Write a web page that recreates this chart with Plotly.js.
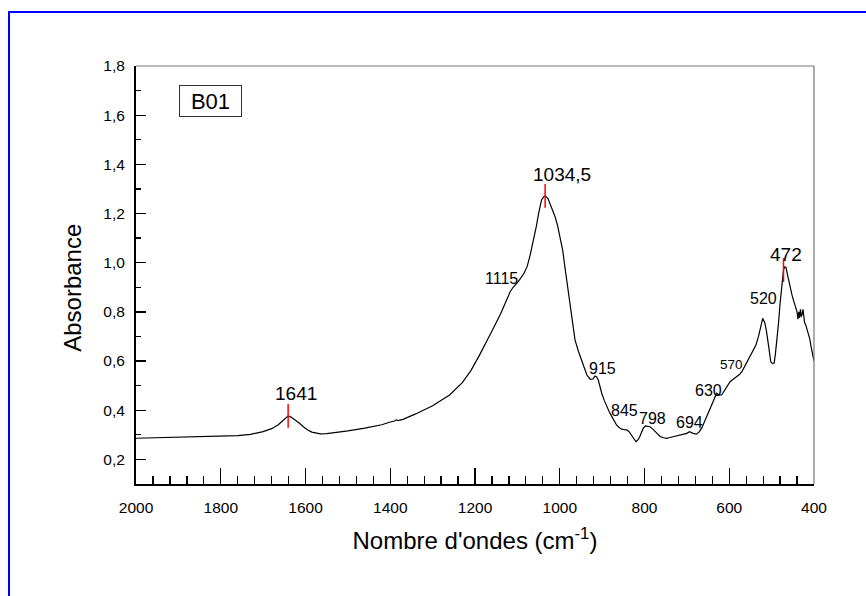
<!DOCTYPE html>
<html>
<head>
<meta charset="utf-8">
<script src="https://cdn.plot.ly/plotly-3.0.1.min.js"></script>
<style>
  html, body { margin: 0; padding: 0; background: #fff; overflow: hidden; }
  #wrap { position: relative; width: 866px; height: 596px; }
  #chart { position: absolute; left: 0; top: 0; width: 866px; height: 596px; }
  #frame { position: absolute; left: 8px; top: 11px; width: 1000px; height: 700px;
           border-left: 2px solid #0000ff; border-top: 2px solid #0000ff; pointer-events: none; }
</style>
</head>
<body>
<div id="wrap">
  <div id="chart"></div>
  <div id="frame"></div>
</div>
<script>
// FTIR spectrum of sample B01: wavenumber (cm-1) and absorbance
const wavenumber = [
  2000, 1950, 1900, 1850, 1800, 1760, 1730, 1700, 1680, 1665, 1655, 1648, 1641, 1634, 1625,
  1615, 1605, 1595, 1585, 1575, 1565, 1550, 1520, 1500, 1460, 1420, 1400, 1390, 1386, 1382,
  1370, 1340, 1300, 1260, 1230, 1210, 1190, 1175, 1160, 1140, 1125, 1117, 1110, 1098, 1085,
  1077, 1070, 1062, 1055, 1050, 1043, 1038, 1034.5, 1028, 1023, 1017, 1011, 1005, 999, 993,
  988, 982, 976, 972, 968, 964, 956, 948, 942, 936, 928, 922, 917, 913, 909,
  905, 901, 895, 889, 883, 877, 871, 866, 860, 854, 848, 842, 836, 830, 825,
  820, 815, 811, 807, 803, 798, 793, 787, 781, 775, 769, 763, 755, 748, 740,
  732, 720, 708, 700, 694, 689, 685, 677, 671, 665, 659, 653, 645, 638, 634,
  630, 624, 618, 610, 604, 598, 590, 582, 576, 570, 565, 559, 551, 543, 537,
  531, 526, 521, 516, 512, 507, 502, 498, 494, 491, 488, 484, 480, 476, 472,
  469, 466, 463, 460, 456, 452, 448, 445, 442, 440, 438, 436, 434, 432, 430,
  428, 426, 424, 422, 420, 417, 413, 410, 407, 405, 402, 400
];
const absorbance = [
  0.286, 0.288, 0.290, 0.292, 0.295, 0.297, 0.302, 0.313, 0.325, 0.340, 0.355, 0.368, 0.377, 0.372, 0.362,
  0.348, 0.333, 0.320, 0.311, 0.306, 0.304, 0.305, 0.311, 0.316, 0.327, 0.341, 0.352, 0.356, 0.361, 0.358,
  0.363, 0.385, 0.418, 0.462, 0.512, 0.560, 0.622, 0.675, 0.722, 0.790, 0.850, 0.882, 0.900, 0.923, 0.955,
  0.984, 1.030, 1.092, 1.150, 1.200, 1.255, 1.268, 1.272, 1.262, 1.242, 1.218, 1.187, 1.150, 1.106, 1.050,
  0.984, 0.910, 0.835, 0.780, 0.726, 0.686, 0.640, 0.604, 0.570, 0.543, 0.526, 0.527, 0.539, 0.535, 0.523,
  0.495, 0.469, 0.440, 0.414, 0.393, 0.374, 0.356, 0.340, 0.330, 0.323, 0.321, 0.320, 0.312, 0.299, 0.284,
  0.272, 0.280, 0.293, 0.310, 0.327, 0.336, 0.335, 0.333, 0.324, 0.313, 0.302, 0.293, 0.288, 0.286, 0.289,
  0.293, 0.297, 0.302, 0.306, 0.313, 0.309, 0.306, 0.303, 0.312, 0.327, 0.350, 0.374, 0.405, 0.435, 0.452,
  0.469, 0.462, 0.462, 0.482, 0.500, 0.516, 0.527, 0.536, 0.545, 0.557, 0.573, 0.591, 0.617, 0.645, 0.665,
  0.700, 0.745, 0.774, 0.755, 0.720, 0.660, 0.597, 0.590, 0.592, 0.630, 0.672, 0.750, 0.835, 0.910, 0.970,
  0.983, 0.981, 0.955, 0.930, 0.895, 0.869, 0.845, 0.828, 0.810, 0.800, 0.770, 0.800, 0.775, 0.810, 0.780,
  0.790, 0.810, 0.770, 0.755, 0.750, 0.730, 0.713, 0.690, 0.660, 0.645, 0.625, 0.600
];

// Main bands, marked with a red tick at the maximum
const mainBands = [1641, 1034.5, 472];
const mainBandLabels = ['1641', '1034,5', '472'];
// Secondary bands and shoulders
const minorBands = [1115, 915, 845, 798, 694, 630, 570, 520];
const minorBandLabels = ['1115', '915', '845', '798', '694', '630', '570', '520'];

const sampleName = 'B01';
const xTitle = "Nombre d'ondes (cm<sup>-1</sup>)";
const yTitle = 'Absorbance';
const xTickValues = [2000, 1800, 1600, 1400, 1200, 1000, 800, 600, 400];
const yTickValues = [0.2, 0.4, 0.6, 0.8, 1.0, 1.2, 1.4, 1.6, 1.8];

// absorbance at an arbitrary wavenumber (linear between samples)
function absorbanceAt(wn) {
  for (let i = 0; i < wavenumber.length - 1; i++) {
    const a = wavenumber[i], b = wavenumber[i + 1];
    if (wn <= a && wn >= b) {
      const t = (a - wn) / (a - b);
      return absorbance[i] + t * (absorbance[i + 1] - absorbance[i]);
    }
  }
  return absorbance[absorbance.length - 1];
}

const FONT = 'Liberation Sans, Arial, sans-serif';

// label offsets (px) from the band position on the curve
const mainOffsets = [[8, 22], [17, 21], [3, 16]];
const minorOffsets = [[-10, 12], [7, 8], [-1, 19], [7, 7], [0, 9], [-8, 3], [-10, 7], [0, 21]];
const minorSizes = [16, 16, 16, 16, 16, 16, 13.5, 16];

const annotations = [];
mainBands.forEach((wn, i) => {
  annotations.push({
    x: wn, y: absorbanceAt(wn), xref: 'x', yref: 'y', text: mainBandLabels[i],
    showarrow: false, xshift: mainOffsets[i][0], yshift: mainOffsets[i][1],
    xanchor: 'center', yanchor: 'middle',
    font: { family: FONT, size: 19, color: '#000' }
  });
});
minorBands.forEach((wn, i) => {
  annotations.push({
    x: wn, y: absorbanceAt(wn), xref: 'x', yref: 'y', text: minorBandLabels[i],
    showarrow: false, xshift: minorOffsets[i][0], yshift: minorOffsets[i][1],
    xanchor: 'center', yanchor: 'middle',
    font: { family: FONT, size: minorSizes[i], color: '#000' }
  });
});
// sample name in a box
annotations.push({
  x: 0.1099, y: 0.916, xref: 'paper', yref: 'paper', text: sampleName,
  showarrow: false, xanchor: 'center', yanchor: 'middle',
  width: 61, height: 30, borderpad: 0, borderwidth: 1, bordercolor: '#333',
  font: { family: FONT, size: 22, color: '#000' }
});
// vertical axis title, placed beside the tick labels
annotations.push({
  x: -0.094, y: 0.47, xref: 'paper', yref: 'paper', text: yTitle,
  showarrow: false, textangle: -90, xanchor: 'center', yanchor: 'middle',
  font: { family: FONT, size: 24, color: '#000' }
});

const traces = [
  {
    x: wavenumber, y: absorbance, type: 'scatter', mode: 'lines',
    line: { color: '#000', width: 1.2 }, hoverinfo: 'skip'
  },
  {
    x: mainBands, y: mainBands.map(absorbanceAt), type: 'scatter', mode: 'markers',
    marker: { symbol: 'line-ns-open', size: 17, color: '#ff0000', line: { color: '#ff0000', width: 1.5 } },
    hoverinfo: 'skip'
  }
];

const layout = {
  width: 866, height: 596,
  margin: { l: 136, r: 52, t: 66, b: 112 },
  paper_bgcolor: '#fff', plot_bgcolor: '#fff',
  showlegend: false,
  separators: ', ',
  font: { family: FONT, color: '#000' },
  xaxis: {
    range: [2000, 400], autorange: false,
    tickvals: xTickValues, tickformat: 'd',
    ticks: 'inside', ticklen: 16, tickwidth: 1.3, tickcolor: '#000',
    minor: { dtick: 40, tick0: 0, ticks: 'inside', ticklen: 8, tickwidth: 1.3, tickcolor: '#000' },
    showline: true, linecolor: '#000', linewidth: 2, mirror: false,
    showgrid: false, zeroline: false,
    tickfont: { family: FONT, size: 15.5, color: '#000' },
    ticklabelstandoff: 8,
    title: { text: xTitle, font: { family: FONT, size: 24, color: '#000' }, standoff: 18 }
  },
  yaxis: {
    range: [0.1, 1.8], autorange: false,
    tickvals: yTickValues, tickformat: '.1f',
    ticks: 'inside', ticklen: 10, tickwidth: 1.3, tickcolor: '#000',
    minor: { dtick: 0.1, tick0: 0, ticks: 'inside', ticklen: 5, tickwidth: 1.3, tickcolor: '#000' },
    showline: true, linecolor: '#000', linewidth: 2, mirror: false,
    showgrid: false, zeroline: false,
    tickfont: { family: FONT, size: 15.5, color: '#000' },
    ticklabelstandoff: 6
  },
  shapes: [
    // thin grey frame on the top and right sides of the plot area
    { type: 'line', xref: 'paper', yref: 'paper', x0: 0, x1: 1, y0: 1, y1: 1, line: { color: '#777', width: 1.2 } },
    { type: 'line', xref: 'paper', yref: 'paper', x0: 1, x1: 1, y0: 0, y1: 1, line: { color: '#777', width: 1.2 } }
  ],
  annotations: annotations
};

Plotly.newPlot('chart', traces, layout, { staticPlot: true, displayModeBar: false });
</script>
</body>
</html>
